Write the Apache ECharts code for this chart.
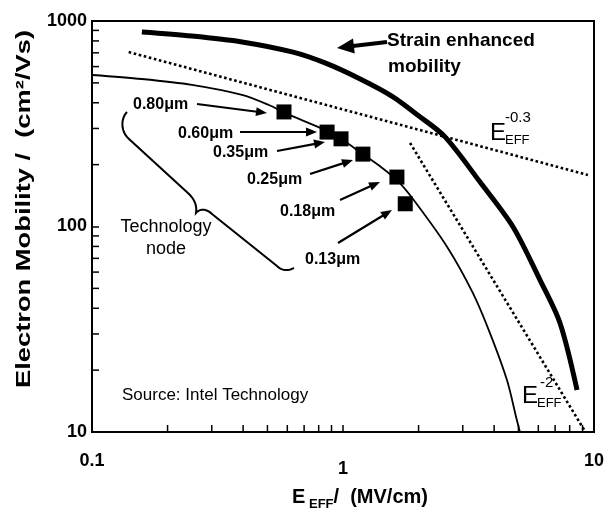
<!DOCTYPE html>
<html><head><meta charset="utf-8">
<script src="https://cdn.jsdelivr.net/npm/echarts@6/dist/echarts.min.js"></script>
<style>html,body{margin:0;padding:0;background:#fff}#c{width:608px;height:509px}</style>
</head><body><div id="c"></div>
<script>
// ---- data ----
const strainX = [0.158, 0.25, 0.396, 0.627, 0.848, 1.16, 1.57, 2.0, 2.55, 3.51, 4.76, 6.09, 7.32, 8.56];
const strainY = [884, 845, 791, 707, 625, 525, 430, 346, 273, 165, 99.5, 55, 33.9, 16.0];
const techX = [0.1, 0.158, 0.25, 0.396, 0.507, 0.587, 0.864, 0.982, 1.20, 1.40, 1.64, 1.90, 2.60, 3.29, 3.85, 4.50, 4.93, 5.17];
const techY = [546, 522, 489, 437, 390, 357, 292, 267, 225, 197, 168, 136, 79.5, 47.5, 30.3, 17.9, 11.4, 9.14];
const nodeLabels = ['0.80μm', '0.60μm', '0.35μm', '0.25μm', '0.18μm', '0.13μm'];
const nodeX = [0.582, 0.864, 0.982, 1.20, 1.64, 1.77];
const nodeY = [361, 288, 267, 225, 174, 129];
const pow03X = [0.140, 9.46];
const pow03Y = [706, 178];
const pow2X = [1.85, 9.2];
const pow2Y = [255, 10.1];
const xTickLabels = ['0.1', '1', '10'];
const yTickLabels = ['10', '100', '1000'];
const xMinorTicks = [0.2, 0.3, 0.4, 0.5, 0.6, 0.7, 0.8, 0.9, 2, 3, 4, 5, 6, 7, 8, 9];
const yMinorTicks = [20, 30, 40, 50, 60, 70, 80, 90, 200, 300, 400, 500, 600, 700, 800, 900];

const FONT = '"Liberation Sans", Arial, Helvetica, sans-serif';
const zip = (xs, ys) => xs.map((x, i) => [x, ys[i]]);
const chart = echarts.init(document.getElementById('c'));

function arrow(x1, y1, x2, y2, lw, hl, hw) {
  const dx = x2 - x1, dy = y2 - y1, L = Math.hypot(dx, dy), ux = dx / L, uy = dy / L;
  const bx = x2 - ux * hl, by = y2 - uy * hl, px = -uy, py = ux;
  return [
    { type: 'line', shape: { x1, y1, x2: bx + ux, y2: by + uy }, style: { stroke: '#000', lineWidth: lw } },
    { type: 'polygon', shape: { points: [[x2, y2], [bx + px * hw / 2, by + py * hw / 2], [bx - px * hw / 2, by - py * hw / 2]] }, style: { fill: '#000' } }
  ];
}
function T(text, x, y, size, weight, align) {
  return { type: 'text', x, y, style: { text, fontSize: size, fontWeight: weight, fontFamily: FONT, fill: '#000', align: align || 'left', verticalAlign: 'middle' } };
}
function bracePoints(segs) {
  const pts = [];
  segs.forEach(s => {
    if (s.length === 2) { pts.push(s[0], s[1]); return; }
    const [p0, p1, p2, p3] = s;
    for (let i = 0; i <= 12; i++) {
      const t = i / 12, u = 1 - t;
      pts.push([u*u*u*p0[0] + 3*u*u*t*p1[0] + 3*u*t*t*p2[0] + t*t*t*p3[0],
                u*u*u*p0[1] + 3*u*u*t*p1[1] + 3*u*t*t*p2[1] + t*t*t*p3[1]]);
    }
  });
  return pts;
}

// annotation layout (pixels)
const labelPos = [[133, 105], [178, 134], [213, 153], [247, 180], [280, 212], [305, 260]];
const arrowPos = [[197, 104, 267, 113], [240, 132, 317, 132], [277, 151, 325, 142], [310, 174, 353, 160], [340, 200, 380, 182], [338, 243, 392, 210]];

const graphics = [];
nodeLabels.forEach((t, i) => {
  graphics.push(T(t, labelPos[i][0], labelPos[i][1], 16, 'bold'));
  const a = arrowPos[i];
  graphics.push(...arrow(a[0], a[1], a[2], a[3], 2.2, 11, 9));
});
graphics.push(T('Strain enhanced', 387, 41, 19, 'bold'));
graphics.push(T('mobility', 388, 67, 19, 'bold'));
graphics.push(...arrow(387, 42, 337, 48, 4, 17, 15));
graphics.push(T('Technology', 166, 227, 18, 'normal', 'center'));
graphics.push(T('node', 166, 249, 18, 'normal', 'center'));
graphics.push({
  type: 'polyline',
  shape: { points: bracePoints([
    [[127,112],[121,118],[120,131],[129,139]],
    [[129,139],[189,194]],
    [[189,194],[195,200],[197,206],[196,213]],
    [[196,213],[199,209],[206,208],[212,214]],
    [[212,214],[277,266]],
    [[277,266],[282,271],[288,271],[294,268]]
  ]) },
  style: { stroke: '#000', lineWidth: 2, fill: null }
});
graphics.push(T('E', 490, 133, 24, 'normal'));
graphics.push(T('EFF', 505, 140, 13, 'normal'));
graphics.push(T('-0.3', 505, 118, 15, 'normal'));
graphics.push(T('E', 522, 396, 24, 'normal'));
graphics.push(T('EFF', 537, 403, 13, 'normal'));
graphics.push(T('-2', 540, 383, 15, 'normal'));
graphics.push(T('Source: Intel Technology', 122, 395, 17, 'normal'));
// y-axis title (stretched along its length like the reference lettering)
graphics.push({ type: 'text', x: 24, y: 209, rotation: Math.PI / 2, scaleX: 1.3,
  style: { text: 'Electron Mobility /  (cm²/Vs)', fontSize: 21, fontWeight: 'bold', fontFamily: FONT, fill: '#000', align: 'center', verticalAlign: 'middle' } });

const tickData = yMinorTicks.map(v => [0.1, v, 0]).concat(xMinorTicks.map(v => [v, 10, 1]));

chart.setOption({
  animation: false,
  backgroundColor: '#fff',
  grid: { left: 92, right: 14, top: 21, bottom: 77, show: true, borderColor: '#000', borderWidth: 2, outerBoundsMode: 'none', containLabel: false },
  xAxis: {
    type: 'log', logBase: 10, min: 0.1, max: 10,
    axisLine: { show: true, lineStyle: { color: '#000', width: 2 } },
    axisTick: { show: true, inside: true, length: 7, lineStyle: { color: '#000', width: 1.5 } },
    splitLine: { show: false },
    axisLabel: {
      margin: 20, color: '#000', fontSize: 18, fontWeight: 'bold', fontFamily: FONT,
      formatter: v => { const s = xTickLabels.find(t => Math.abs(parseFloat(t) - v) < 1e-6 * v) || ''; return s === '1' ? '{one|1}' : s; },
      rich: { one: { fontSize: 18, fontWeight: 'bold', fontFamily: FONT, color: '#000', padding: [8, 0, 0, 0] } }
    },
    name: '{e|E}{s| EFF}{n|/  (MV/cm)}', nameLocation: 'middle', nameGap: 52,
    nameTextStyle: {
      padding: [0, 0, 0, 34],
      rich: {
        e: { fontSize: 20, fontWeight: 'bold', fontFamily: FONT, color: '#000' },
        s: { fontSize: 13, fontWeight: 'bold', fontFamily: FONT, color: '#000', padding: [14, 0, 0, 0] },
        n: { fontSize: 20, fontWeight: 'bold', fontFamily: FONT, color: '#000' }
      }
    }
  },
  yAxis: {
    type: 'log', logBase: 10, min: 10, max: 1000,
    axisLine: { show: true, lineStyle: { color: '#000', width: 2 } },
    axisTick: { show: true, inside: true, length: 7, lineStyle: { color: '#000', width: 1.5 } },
    splitLine: { show: false },
    axisLabel: {
      margin: 5, color: '#000', fontSize: 18, fontWeight: 'bold', fontFamily: FONT,
      formatter: v => yTickLabels.find(t => Math.abs(parseFloat(t) - v) < 1e-6 * v) || ''
    }
  },
  series: [
    { type: 'line', data: zip(strainX, strainY), symbol: 'none', smooth: 0.3, lineStyle: { color: '#000', width: 5 }, z: 3 },
    { type: 'line', data: zip(techX, techY), symbol: 'none', smooth: 0.3, lineStyle: { color: '#000', width: 1.8 }, z: 3 },
    { type: 'line', data: zip(pow03X, pow03Y), symbol: 'none', lineStyle: { color: '#000', width: 2.6, type: [2.6, 2.6] }, z: 2 },
    { type: 'line', data: zip(pow2X, pow2Y), symbol: 'none', lineStyle: { color: '#000', width: 2.6, type: [2.6, 2.6] }, z: 2 },
    { type: 'scatter', data: zip(nodeX, nodeY), symbol: 'rect', symbolSize: 15, itemStyle: { color: '#000', opacity: 1 }, z: 4 },
    {
      type: 'custom', data: tickData, silent: true, z: 5,
      renderItem: (params, api) => {
        const p = api.coord([api.value(0), api.value(1)]);
        const vert = api.value(2) === 1;
        return { type: 'line', shape: vert ? { x1: p[0], y1: p[1], x2: p[0], y2: p[1] - 7 } : { x1: p[0], y1: p[1], x2: p[0] + 7, y2: p[1] }, style: { stroke: '#000', lineWidth: 1.5 } };
      }
    }
  ],
  graphic: graphics
});
</script></body></html>
